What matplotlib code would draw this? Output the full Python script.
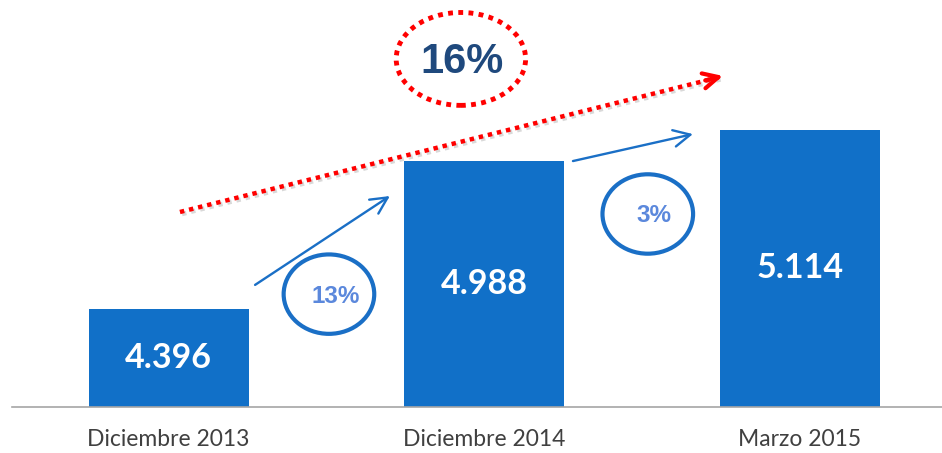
import matplotlib.pyplot as plt
from matplotlib.patches import Ellipse
import matplotlib.patheffects as pe

# data
categories = ["Diciembre 2013", "Diciembre 2014", "Marzo 2015"]
values = [4396, 4988, 5114]
value_labels = ["4.396", "4.988", "5.114"]
step_labels = ["13%", "3%"]
total_label = "16%"

BAR_COLOR = "#1170C8"
RING_COLOR = "#1A6FC6"
STEP_TEXT = "#5B88DC"
TOTAL_TEXT = "#1F497D"
RED = "#FF0000"

W, H = 942, 453
fig = plt.figure(figsize=(W / 100, H / 100), dpi=100)
ax_left, ax_bottom = 12 / W, 46 / H
ax = fig.add_axes([ax_left, ax_bottom, 1 - ax_left, 1 - ax_bottom])

x = list(range(len(categories)))
ax.bar(x, values, width=0.507, color=BAR_COLOR, zorder=2)
ax.set_xlim(-0.496, 2.45)
ax.set_ylim(4004, 5634)

for xi, v, lab in zip(x, values, value_labels):
    ax.text(xi, (v + 4004) / 2, lab, ha="center", va="center", color="white",
            fontsize=24.5, fontweight="bold", family="Lato", zorder=3)

for s in ["top", "right", "left"]:
    ax.spines[s].set_visible(False)
ax.spines["bottom"].set_color("#A6A6A6")
ax.spines["bottom"].set_linewidth(1.2)
ax.set_yticks([])
ax.set_xticks(x)
ax.set_xticklabels(categories, fontsize=16.5, color="#404040", family="Lato")
ax.tick_params(axis="x", length=0, pad=16)

shadow = [pe.SimpleLineShadow(offset=(1.5, -1.5), alpha=0.15), pe.Normal()]

# step arrows between bars
for (x0, y0, x1, y1) in [(0.274, 4493, 0.701, 4849), (1.281, 4989, 1.661, 5097)]:
    ax.annotate("", xy=(x1, y1), xytext=(x0, y0),
                arrowprops=dict(arrowstyle="->,head_length=1.2,head_width=0.6",
                                color=RING_COLOR, lw=1.7, shrinkA=0, shrinkB=0),
                zorder=4)

# step rings
for (cx, cy), lab in zip([(0.508, 4456), (1.518, 4777)], step_labels):
    ax.add_patch(Ellipse((cx, cy), 0.287, 318, fill=False, ec=RING_COLOR, lw=3, zorder=4))
    ax.text(cx + 0.02, cy - 8, lab, ha="center", va="center", color=STEP_TEXT,
            fontsize=17.5, fontweight="bold", family="Liberation Sans", zorder=5)

# total growth arrow (dotted red)
rx0, ry0, rx1, ry1 = 0.036, 4785, 1.745, 5325
ax.plot([rx0, rx1], [ry0, ry1], color=RED, lw=3.2, linestyle=(0, (1, 1.1)),
        solid_capstyle="butt", dash_capstyle="butt", zorder=4, path_effects=shadow)
ax.annotate("", xy=(1.756, 5330), xytext=(1.70, 5312),
            arrowprops=dict(arrowstyle="->,head_length=1.1,head_width=0.55",
                            color=RED, lw=3, shrinkA=0, shrinkB=0), zorder=4)

ax.add_patch(Ellipse((0.926, 5398), 0.410, 372, fill=False, ec=RED, lw=3.5,
                     linestyle=(0, (1, 1.1)), zorder=4))
ax.text(0.929, 5385, total_label, ha="center", va="center", color=TOTAL_TEXT,
        fontsize=30, fontweight="bold", family="Liberation Sans", zorder=5)

fig.savefig("out.png", dpi=100)
